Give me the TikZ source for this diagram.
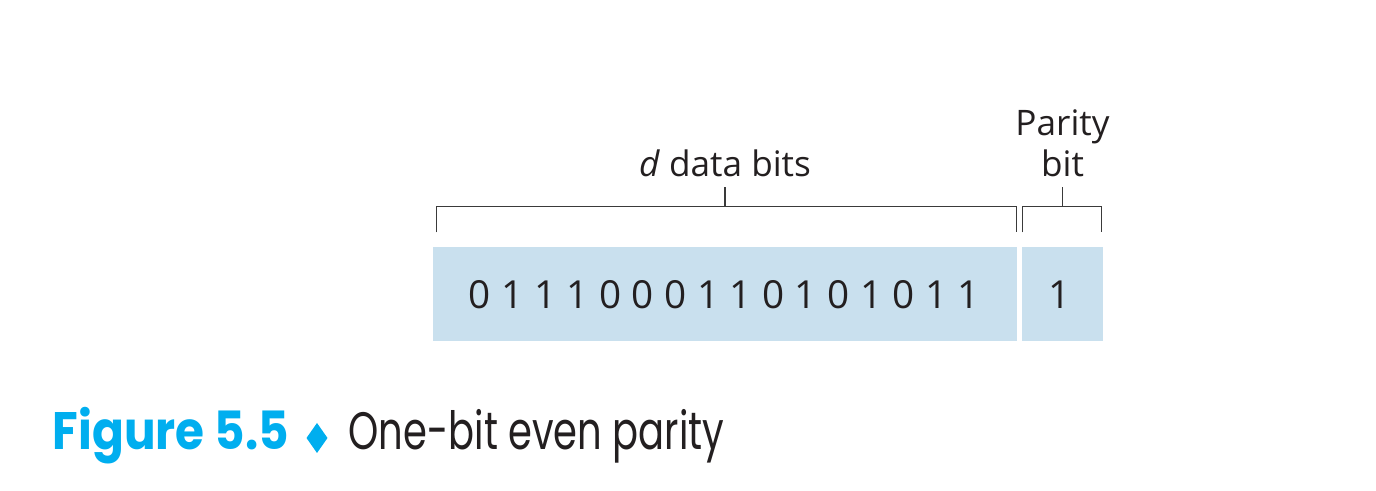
\documentclass[tikz,border=0pt]{standalone}
\usepackage{fontspec}
\setmainfont{Open Sans}
\newfontfamily\capbold[FakeStretch=0.89]{Poppins}
\newfontfamily\capnarrow[FakeStretch=0.73]{Poppins}
\usetikzlibrary{positioning,calc}
\definecolor{pbbox}{HTML}{C9E0EE}
\definecolor{pbcyan}{HTML}{00AEEF}
\definecolor{pbink}{HTML}{231F20}
\definecolor{pbline}{HTML}{3A3A3A}
\tikzset{
  field/.style   ={fill=pbbox, minimum height=9.4mm, inner sep=0pt},
  bitlabel/.style={font=\fontsize{11}{13}\selectfont, text=pbink, anchor=base, inner sep=0pt},
  brlabel/.style ={font=\fontsize{10}{11.6}\selectfont, text=pbink, align=center, inner sep=0pt},
  brace/.style   ={draw=pbline, line width=0.15mm},
  figtag/.style  ={font=\capbold\bfseries\fontsize{15}{18}\selectfont, text=pbcyan,
                   anchor=base west, inner sep=0pt},
  figtxt/.style  ={font=\capnarrow\fontsize{15}{18}\selectfont, text=pbink,
                   anchor=base west, inner sep=0pt},
}

\begin{document}
\begin{tikzpicture}[x=0.1mm, y=0.1mm]
      \useasboundingbox (0,0) rectangle (1376,491);
      % fields
      \node[field, minimum width=58.4mm] (data) at (725,197) {};
      \node[field, minimum width=8.1mm] (par) at (1062.5,197) {};
      % bits
      \foreach \b [count=\i from 0] in {0,1,1,1,0,0,0,1,1,0,1,0,1,0,1,1}{
          \node[bitlabel] (b\i) at (480+32.6*\i,182) {\b};}
      \node[bitlabel] (pb) at (1060,182) {1};
      % brackets
      \draw[brace] ($(data.north west)+(4,14)$) -- ++(0,26) -| ($(data.north east)+(-1,14)$);
      \draw[brace] ($(data.north)+(0,40)$) -- ++(0,19) coordinate (dtop);
      \draw[brace] ($(par.north west)+(1,14)$) -- ++(0,26) -| ($(par.north east)+(-2,14)$);
      \draw[brace] ($(par.north)+(0,40)$) -- ++(0,19) coordinate (ptop);
      \node[brlabel, anchor=base] (dlab) at ($(dtop)+(0,11)$) {\textit{d} data bits};
      \node[brlabel, anchor=base] (plab) at ($(ptop)+(0,11)$) {Parity\\bit};
      % caption
      \node[figtag] (ftag) at (52,41) {Figure 5.5};
      \coordinate (fsep) at (317,53);
      \fill[pbcyan] ($(fsep)+(0,15)$) -- ++(10.5,-15) -- ++(-10.5,-15) -- ++(-10.5,15) -- cycle;
      \node[figtxt] (ftxt) at (348,41) {One-bit even parity};
\end{tikzpicture}
\end{document}
